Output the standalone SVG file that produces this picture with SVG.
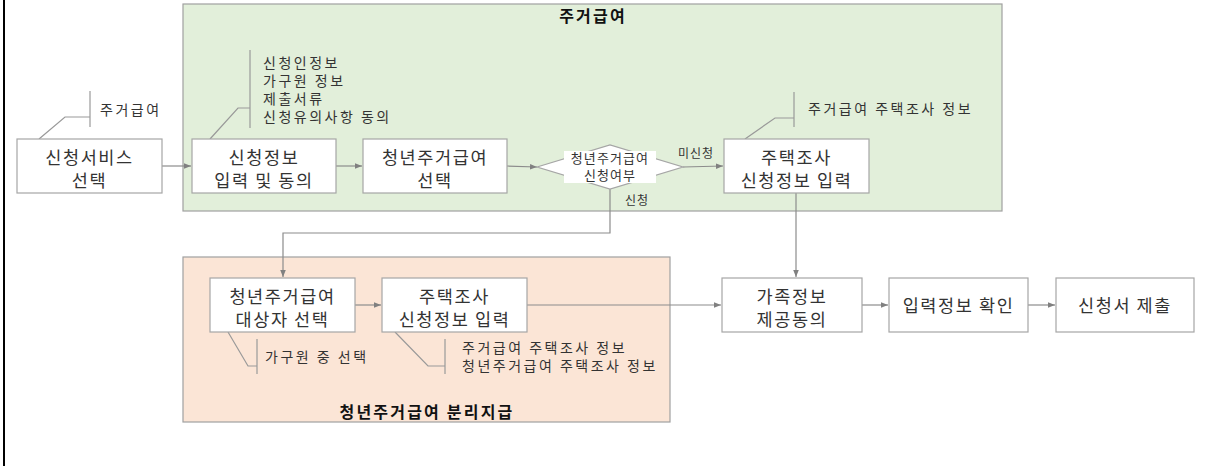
<svg xmlns="http://www.w3.org/2000/svg" width="1226" height="466" viewBox="0 0 1226 466">
<defs>
<marker id="arr" viewBox="0 0 10 10" refX="10" refY="5" markerWidth="7" markerHeight="7" orient="auto" markerUnits="userSpaceOnUse">
<path d="M0,1 L10,5 L0,9 z" fill="#808080"/>
</marker>
<style>
text{font-family:"Noto Sans CJK KR","Noto Sans",sans-serif;fill:#333}
.box{fill:#fff;stroke:#a6a6a6;stroke-width:1.2}
.t{font-size:17.5px;letter-spacing:1.6px;text-anchor:middle}
.ann{font-size:14px;letter-spacing:2.5px}
.sm{font-size:12px;letter-spacing:1px;text-anchor:middle}
.dt{font-size:13px;letter-spacing:1.1px;text-anchor:middle}
.title{font-size:16px;font-weight:bold;letter-spacing:2.2px;text-anchor:middle;fill:#111}
.con{fill:none;stroke:#8c8c8c;stroke-width:1.2}
.call{fill:none;stroke:#999;stroke-width:1.2}
</style>
</defs>
<rect width="1226" height="466" fill="#fff"/>
<line x1="4" y1="0" x2="4" y2="466" stroke="#000" stroke-width="2"/>

<g id="group-housing">
<rect x="183" y="4" width="819" height="207" fill="#e2efda" stroke="#a0a0a0" stroke-width="1.2"/>
<text class="title" x="593" y="22">주거급여</text>
</g>
<g id="group-youth">
<rect x="183" y="257" width="487" height="165" fill="#fbe5d6" stroke="#a0a0a0" stroke-width="1.2"/>
<text class="title" x="427" y="418">청년주거급여 분리지급</text>
</g>

<g id="connectors">
<line class="con" x1="162" y1="166" x2="191" y2="166" marker-end="url(#arr)"/>
<line class="con" x1="336" y1="166" x2="362" y2="166" marker-end="url(#arr)"/>
<line class="con" x1="507" y1="166" x2="537" y2="167" marker-end="url(#arr)"/>
<line class="con" x1="683" y1="167" x2="723" y2="166" marker-end="url(#arr)"/>
<polyline class="con" points="610,189 610,233 283,233 283,277" marker-end="url(#arr)"/>
<line class="con" x1="355" y1="305" x2="381" y2="305" marker-end="url(#arr)"/>
<line class="con" x1="527" y1="305" x2="721" y2="305" marker-end="url(#arr)"/>
<line class="con" x1="796" y1="193" x2="796" y2="277" marker-end="url(#arr)"/>
<line class="con" x1="862" y1="305" x2="888" y2="305" marker-end="url(#arr)"/>
<line class="con" x1="1028" y1="305" x2="1055" y2="305" marker-end="url(#arr)"/>
<text class="sm" x="696" y="158">미신청</text>
<text class="sm" x="637" y="205">신청</text>
</g>

<g id="note-service">
<polyline class="call" points="39,139 65,117 90,117"/>
<line class="call" x1="90" y1="91" x2="90" y2="127"/>
<text class="ann" x="100" y="115">주거급여</text>
</g>
<g id="note-apply">
<polyline class="call" points="210,139 238,108 250,108"/>
<line class="call" x1="250" y1="50" x2="250" y2="128"/>
<text class="ann" x="263" y="68">신청인정보</text>
<text class="ann" x="263" y="86">가구원 정보</text>
<text class="ann" x="263" y="104">제출서류</text>
<text class="ann" x="263" y="122">신청유의사항 동의</text>
</g>
<g id="note-survey-top">
<polyline class="call" points="745,139 775,118 794,118"/>
<line class="call" x1="794" y1="92" x2="794" y2="127"/>
<text class="ann" x="808" y="114">주거급여 주택조사 정보</text>
</g>
<g id="note-member">
<polyline class="call" points="228,332 248,366 257,366"/>
<line class="call" x1="257" y1="339" x2="257" y2="374"/>
<text class="ann" x="265" y="362">가구원 중 선택</text>
</g>
<g id="note-survey-bottom">
<polyline class="call" points="395,332 428,366 445,366"/>
<line class="call" x1="445" y1="339" x2="445" y2="374"/>
<text class="ann" x="462" y="353">주거급여 주택조사 정보</text>
<text class="ann" x="462" y="371">청년주거급여 주택조사 정보</text>
</g>

<g id="n-service">
<rect class="box" x="17" y="139" width="145" height="54"/>
<text class="t" x="89.5" y="164">신청서비스</text>
<text class="t" x="89.5" y="187">선택</text>
</g>
<g id="n-apply">
<rect class="box" x="192" y="139" width="144" height="54"/>
<text class="t" x="264" y="164">신청정보</text>
<text class="t" x="264" y="187">입력 및 동의</text>
</g>
<g id="n-youth-select">
<rect class="box" x="363" y="139" width="144" height="54"/>
<text class="t" x="435" y="164">청년주거급여</text>
<text class="t" x="435" y="187">선택</text>
</g>
<g id="n-decision">
<polygon points="537,167 610,145 683,167 610,189" fill="#fff" stroke="#a6a6a6" stroke-width="1.2"/>
<rect x="564" y="151" width="92" height="32" fill="#fff"/>
<text class="dt" x="610" y="163">청년주거급여</text>
<text class="dt" x="610" y="180">신청여부</text>
</g>
<g id="n-survey-top">
<rect class="box" x="724" y="139" width="145" height="54"/>
<text class="t" x="796.5" y="164">주택조사</text>
<text class="t" x="796.5" y="187">신청정보 입력</text>
</g>
<g id="n-youth-target">
<rect class="box" x="210" y="278" width="145" height="54"/>
<text class="t" x="282.5" y="303">청년주거급여</text>
<text class="t" x="282.5" y="326">대상자 선택</text>
</g>
<g id="n-survey-bottom">
<rect class="box" x="382" y="278" width="145" height="54"/>
<text class="t" x="454.5" y="303">주택조사</text>
<text class="t" x="454.5" y="326">신청정보 입력</text>
</g>
<g id="n-family">
<rect class="box" x="722" y="278" width="140" height="54"/>
<text class="t" x="792" y="303">가족정보</text>
<text class="t" x="792" y="326">제공동의</text>
</g>
<g id="n-confirm">
<rect class="box" x="889" y="278" width="139" height="54"/>
<text class="t" x="958.5" y="312">입력정보 확인</text>
</g>
<g id="n-submit">
<rect class="box" x="1056" y="278" width="138" height="54"/>
<text class="t" x="1125" y="312">신청서 제출</text>
</g>
</svg>
